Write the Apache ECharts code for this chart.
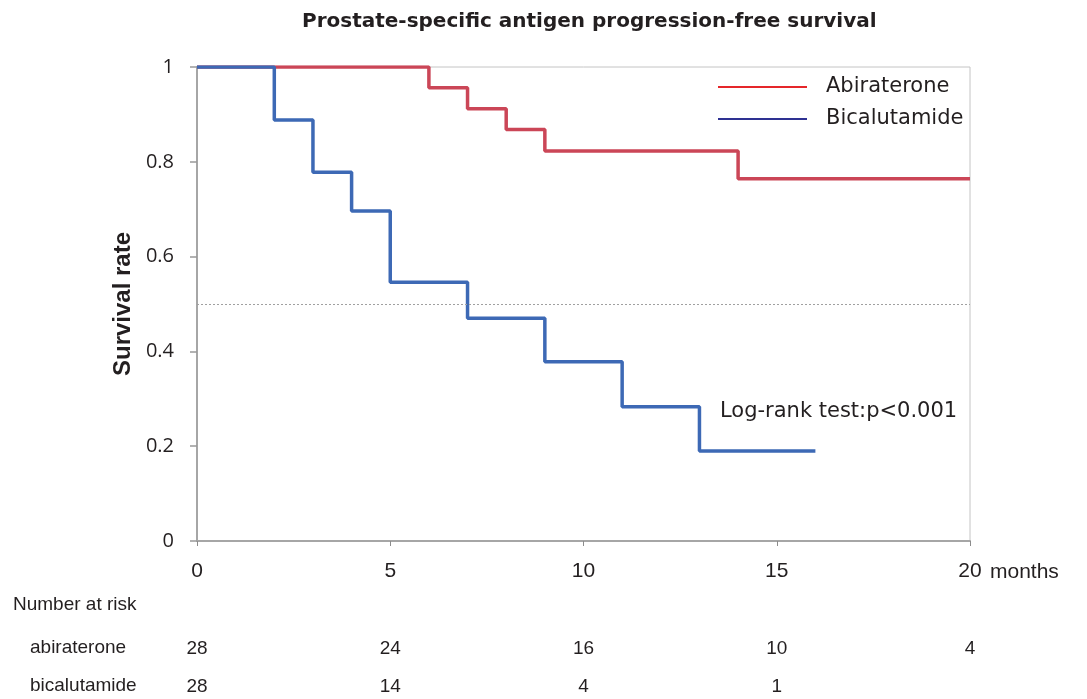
<!DOCTYPE html>
<html>
<head>
<meta charset="UTF-8">
<title>PSA progression-free survival</title>
<script src="https://cdn.jsdelivr.net/npm/echarts@6/dist/echarts.min.js"></script>
<style>
  html, body { margin: 0; padding: 0; background: #fff; }
  #main { width: 1087px; height: 699px; }
</style>
</head>
<body>
<div id="main"></div>
<script>
// step times (months) and survival rate at each step
var abiTimes = [0, 6, 7, 8, 9, 14, 20];
var abiRates = [1, 0.956, 0.912, 0.868, 0.823, 0.764, 0.764];
var bicTimes = [0, 2, 3, 4, 5, 7, 9, 11, 13, 16];
var bicRates = [1, 0.888, 0.778, 0.696, 0.546, 0.470, 0.378, 0.283, 0.190, 0.190];

// number at risk at 0, 5, 10, 15, 20 months
var riskTicks = [0, 5, 10, 15, 20];
var riskAbi = [28, 24, 16, 10, 4];
var riskBic = [28, 14, 4, 1, null];

var seriesNames = ['Abiraterone', 'Bicalutamide'];
var medianLine = 0.5;

function pairs(xs, ys) {
  var out = [];
  for (var i = 0; i < xs.length; i++) out.push([xs[i], ys[i]]);
  return out;
}
function riskLabel(arr) {
  return function (v) {
    var i = riskTicks.indexOf(v);
    if (i < 0 || arr[i] == null) return '';
    return String(arr[i]);
  };
}

var txt = '#231F20';
var chart = echarts.init(document.getElementById('main'));

var option = {
  backgroundColor: '#fff',
  animation: false,
  title: {
    text: 'Prostate-specific antigen progression-free survival',
    left: 297, top: 7,
    textStyle: { fontFamily: 'DejaVu Sans', fontWeight: 'bold', fontSize: 20, color: txt }
  },
  grid: {
    left: 197, right: 117, top: 67, bottom: 158,
    show: true, borderColor: '#C4C4C4', borderWidth: 1
  },
  legend: {
    orient: 'vertical',
    left: 718, top: 76, padding: 0,
    icon: 'rect',
    itemWidth: 89, itemHeight: 2, itemGap: 10,
    textStyle: { fontFamily: 'DejaVu Sans', fontSize: 21, color: txt, lineHeight: 22, padding: [0, 0, 0, 14] },
    data: [
      { name: seriesNames[0], itemStyle: { color: '#E5262A' } },
      { name: seriesNames[1], itemStyle: { color: '#2E3192' } }
    ]
  },
  xAxis: [
    {
      type: 'value', min: 0, max: 20, interval: 5,
      name: 'months', nameLocation: 'end', nameGap: 20,
      nameTextStyle: { fontFamily: 'Liberation Sans', fontSize: 21, color: txt, verticalAlign: 'top', padding: [21, 0, 0, 0] },
      axisLine: { lineStyle: { color: '#A6A6A6', width: 2 } },
      axisTick: { length: 5, lineStyle: { color: '#8C8C8C', width: 1 } },
      axisLabel: { margin: 20, fontFamily: 'Liberation Sans', fontSize: 21, color: txt },
      splitLine: { show: false }
    },
    {
      type: 'value', min: 0, max: 20, interval: 5, position: 'bottom', offset: 98,
      axisLine: { show: false }, axisTick: { show: false }, splitLine: { show: false },
      axisLabel: { margin: 0, fontFamily: 'Liberation Sans', fontSize: 19, color: txt, formatter: riskLabel(riskAbi) }
    },
    {
      type: 'value', min: 0, max: 20, interval: 5, position: 'bottom', offset: 136,
      axisLine: { show: false }, axisTick: { show: false }, splitLine: { show: false },
      axisLabel: { margin: 0, fontFamily: 'Liberation Sans', fontSize: 19, color: txt, formatter: riskLabel(riskBic) }
    }
  ],
  yAxis: {
    type: 'value', min: 0, max: 1, interval: 0.2,
    name: 'Survival rate', nameLocation: 'middle', nameGap: 60, nameRotate: 90,
    nameTextStyle: { fontFamily: 'Liberation Sans', fontWeight: 'bold', fontSize: 24, color: txt },
    axisLine: { show: true, lineStyle: { color: '#A6A6A6', width: 2 } },
    axisTick: { show: true, length: 7, lineStyle: { color: '#999999', width: 1.5 } },
    axisLabel: { margin: 23, fontFamily: 'Open Sans', fontSize: 20, color: txt },
    splitLine: { show: false }
  },
  series: [
    {
      name: seriesNames[0], type: 'line', step: 'end', symbol: 'none',
      data: pairs(abiTimes, abiRates),
      lineStyle: { color: '#CB4657', width: 3.5 },
      itemStyle: { color: '#CB4657' },
      markLine: {
        silent: true, symbol: 'none', label: { show: false },
        lineStyle: { color: '#A0A0A0', width: 1, type: [2, 2] },
        data: [{ yAxis: medianLine }]
      },
      z: 2
    },
    {
      name: seriesNames[1], type: 'line', step: 'end', symbol: 'none',
      data: pairs(bicTimes, bicRates),
      lineStyle: { color: '#3D69B5', width: 3.5 },
      itemStyle: { color: '#3D69B5' },
      z: 3
    }
  ],
  graphic: [
    { type: 'text', left: 720, top: 401, style: { text: 'Log-rank test:p<0.001', font: '21px "DejaVu Sans"', fill: txt } },
    { type: 'text', left: 13, top: 595, style: { text: 'Number at risk', font: '19px "Liberation Sans"', fill: txt } },
    { type: 'text', left: 30, top: 638, style: { text: 'abiraterone', font: '19px "Liberation Sans"', fill: txt } },
    { type: 'text', left: 30, top: 676, style: { text: 'bicalutamide', font: '19px "Liberation Sans"', fill: txt } }
  ]
};

chart.setOption(option);
</script>
</body>
</html>
